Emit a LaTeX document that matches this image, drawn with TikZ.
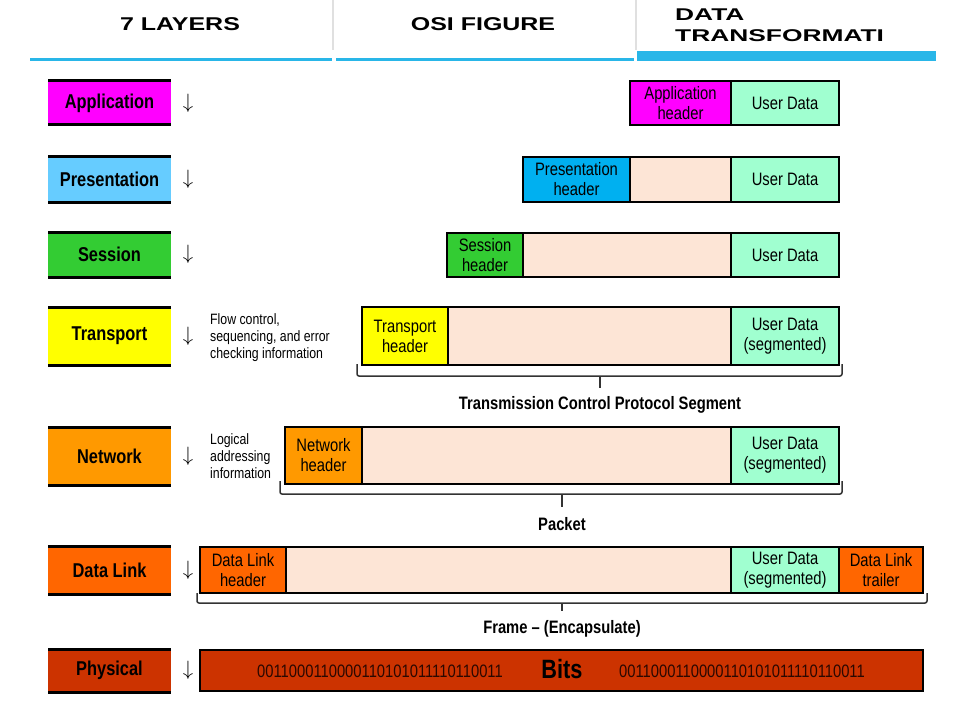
\documentclass[tikz,border=0pt]{standalone}
\usepackage{fontspec}
\usetikzlibrary{positioning}
\newfontfamily\narrowfont{Liberation Sans}[FakeStretch=0.82]
\newfontfamily\tabfont{Liberation Sans}[FakeStretch=1.35]
\newfontfamily\widetabfont{Liberation Sans}[FakeStretch=1.55]
\newcommand\celltext{\narrowfont\fontsize{18}{20}\selectfont}
\definecolor{appcol}{HTML}{FF00FF}
\definecolor{prescol}{HTML}{66CCFF}
\definecolor{preshdr}{HTML}{00B0F0}
\definecolor{sesscol}{HTML}{33CC33}
\definecolor{transcol}{HTML}{FFFF00}
\definecolor{netcol}{HTML}{FF9900}
\definecolor{linkcol}{HTML}{FF6600}
\definecolor{physcol}{HTML}{CC3300}
\definecolor{padcol}{HTML}{FDE5D6}
\definecolor{datacol}{HTML}{A0FFD0}
\definecolor{tabblue}{HTML}{29B6E8}
\definecolor{bitcol}{HTML}{2B0800}
\tikzset{
  layer/.style={inner sep=0pt, outer sep=0pt, minimum width=123pt,
    font=\narrowfont\bfseries\fontsize{20}{22}\selectfont},
  layerline/.style={line width=3pt},
  downarrow/.style={font=\fontsize{20}{22}\selectfont, inner sep=0pt},
  cell/.style={draw=black, line width=1.5pt, inner sep=0pt, outer sep=0pt,
    align=center, anchor=north west, font=\celltext},
  frame/.style={draw=black, line width=2.8pt},
  brace/.style={draw=black!80, line width=1.5pt, rounded corners=2pt},
  bracelabel/.style={font=\narrowfont\bfseries\fontsize{18}{20}\selectfont},
  sidenote/.style={anchor=west, align=left, inner sep=0pt,
    font=\narrowfont\fontsize{15}{17}\selectfont},
  tabtext/.style={font=\tabfont\bfseries\fontsize{18.5}{21}\selectfont}
}
\begin{document}
\begin{tikzpicture}[x=1pt, y=-1pt]
  \useasboundingbox (0,0) rectangle (966,706);
  % tab row at the top
  \draw[black!12, line width=1.2pt] (333,0) -- (333,50) (636,0) -- (636,50);
  \fill[tabblue] (30,58) rectangle (332,61);
  \fill[tabblue] (336,58) rectangle (634,61);
  \fill[tabblue] (637,51) rectangle (936,61);
  \node[tabtext] (tablay) at (180,24) {7 LAYERS};
  \node[tabtext] (tabosi) at (483,24) {OSI FIGURE};
  \node[anchor=north west, align=left, inner sep=0pt,
    font=\widetabfont\bfseries\fontsize{17}{21}\selectfont] (tabdata) at (675,9) {DATA\\TRANSFORMATI};
  % the seven layers
  \foreach \nm/\txt/\col/\yc/\hgt in {app/Application/appcol/103/44,
      pres/Presentation/prescol/179/46, sess/Session/sesscol/254.5/45,
      trans/Transport/transcol/336/58, net/Network/netcol/456/58,
      link/Data Link/linkcol/570/48, phys/Physical/physcol/670.5/43} {
    \node[layer, fill=\col, minimum height=\hgt] (\nm) at (109.5,\yc) {\txt};
    \draw[layerline] (\nm.north west) -- (\nm.north east)
                     (\nm.south west) -- (\nm.south east);
    \node[downarrow] (\nm-arr) at (188,\yc) {$\downarrow$};
  }
  \node[sidenote] (flownote) at (210,338) {Flow control,\\sequencing, and error\\checking information};
  \node[sidenote] (lognote) at (210,456) {Logical\\addressing\\information};
  % application
  \node[cell, fill=appcol, minimum width=101pt, minimum height=44pt] (ah) at (630,81) {Application\\header};
  \node[cell, fill=datacol, minimum width=108pt, minimum height=44pt] (aud) at (ah.north east) {User Data};
  \draw[frame] (ah.north west) rectangle (aud.south east);
  % presentation
  \node[cell, fill=preshdr, minimum width=107pt, minimum height=45pt] (ph) at (523,157) {Presentation\\header};
  \node[cell, fill=padcol, minimum width=101pt, minimum height=45pt] (ppad) at (ph.north east) {};
  \node[cell, fill=datacol, minimum width=108pt, minimum height=45pt] (pud) at (ppad.north east) {User Data};
  \draw[frame] (ph.north west) rectangle (pud.south east);
  % session
  \node[cell, fill=sesscol, minimum width=76pt, minimum height=44pt] (sh) at (447,233) {Session\\header};
  \node[cell, fill=padcol, minimum width=208pt, minimum height=44pt] (spad) at (sh.north east) {};
  \node[cell, fill=datacol, minimum width=108pt, minimum height=44pt] (sud) at (spad.north east) {User Data};
  \draw[frame] (sh.north west) rectangle (sud.south east);
  % transport
  \node[cell, fill=transcol, minimum width=86pt, minimum height=58pt] (th) at (362,307) {Transport\\header};
  \node[cell, fill=padcol, minimum width=283pt, minimum height=58pt] (tpad) at (th.north east) {};
  \node[cell, fill=datacol, minimum width=108pt, minimum height=58pt] (tud) at (tpad.north east) {User Data\\(segmented)};
  \draw[frame] (th.north west) rectangle (tud.south east);
  % network
  \node[cell, fill=netcol, minimum width=77pt, minimum height=57pt] (nh) at (285,427) {Network\\header};
  \node[cell, fill=padcol, minimum width=369pt, minimum height=57pt] (npad) at (nh.north east) {};
  \node[cell, fill=datacol, minimum width=108pt, minimum height=57pt] (nud) at (npad.north east) {User Data\\(segmented)};
  \draw[frame] (nh.north west) rectangle (nud.south east);
  % data link
  \node[cell, fill=linkcol, minimum width=86pt, minimum height=46pt] (dh) at (200,547) {Data Link\\header};
  \node[cell, fill=padcol, minimum width=445pt, minimum height=46pt] (dpad) at (dh.north east) {};
  \node[cell, fill=datacol, minimum width=108pt, minimum height=46pt] (dud) at (dpad.north east) {User Data\\(segmented)};
  \node[cell, fill=linkcol, minimum width=84pt, minimum height=46pt] (dtr) at (dud.north east) {Data Link\\trailer};
  \draw[frame] (dh.north west) rectangle (dtr.south east);
  % physical
  \node[cell, fill=physcol, line width=2.8pt, minimum width=723pt, minimum height=41pt] (bits) at (200,650) {};
  \node[font=\narrowfont\fontsize{18}{20}\selectfont, text=bitcol] (bitsl) at (380,671) {0011000110000110101011110110011};
  \node[font=\narrowfont\bfseries\fontsize{26.5}{28}\selectfont] (bitsc) at (562,669) {Bits};
  \node[font=\narrowfont\fontsize{18}{20}\selectfont, text=bitcol] (bitsr) at (742,671) {0011000110000110101011110110011};
  % brackets under the units
  \node[bracelabel] (tcpseg) at (600,405) {Transmission Control Protocol Segment};
  \coordinate (tbl) at (357,376);
  \coordinate (tbr) at (842,376);
  \draw[brace] (tbl) ++(0,-12) -- (tbl) -- (tbr) -- ++(0,-12);
  \draw[brace] (tbl -| tcpseg) -- ++(0,12);
  \node[bracelabel] (packet) at (562,524) {Packet};
  \coordinate (nbl) at (280,494);
  \coordinate (nbr) at (842,494);
  \draw[brace] (nbl) ++(0,-13) -- (nbl) -- (nbr) -- ++(0,-13);
  \draw[brace] (nbl -| packet) -- ++(0,13);
  \node[bracelabel] (frame) at (562,629) {Frame – (Encapsulate)};
  \coordinate (dbl) at (197,603);
  \coordinate (dbr) at (927,603);
  \draw[brace] (dbl) ++(0,-10) -- (dbl) -- (dbr) -- ++(0,-10);
  \draw[brace] (dbl -| frame) -- ++(0,8);
\end{tikzpicture}
\end{document}
